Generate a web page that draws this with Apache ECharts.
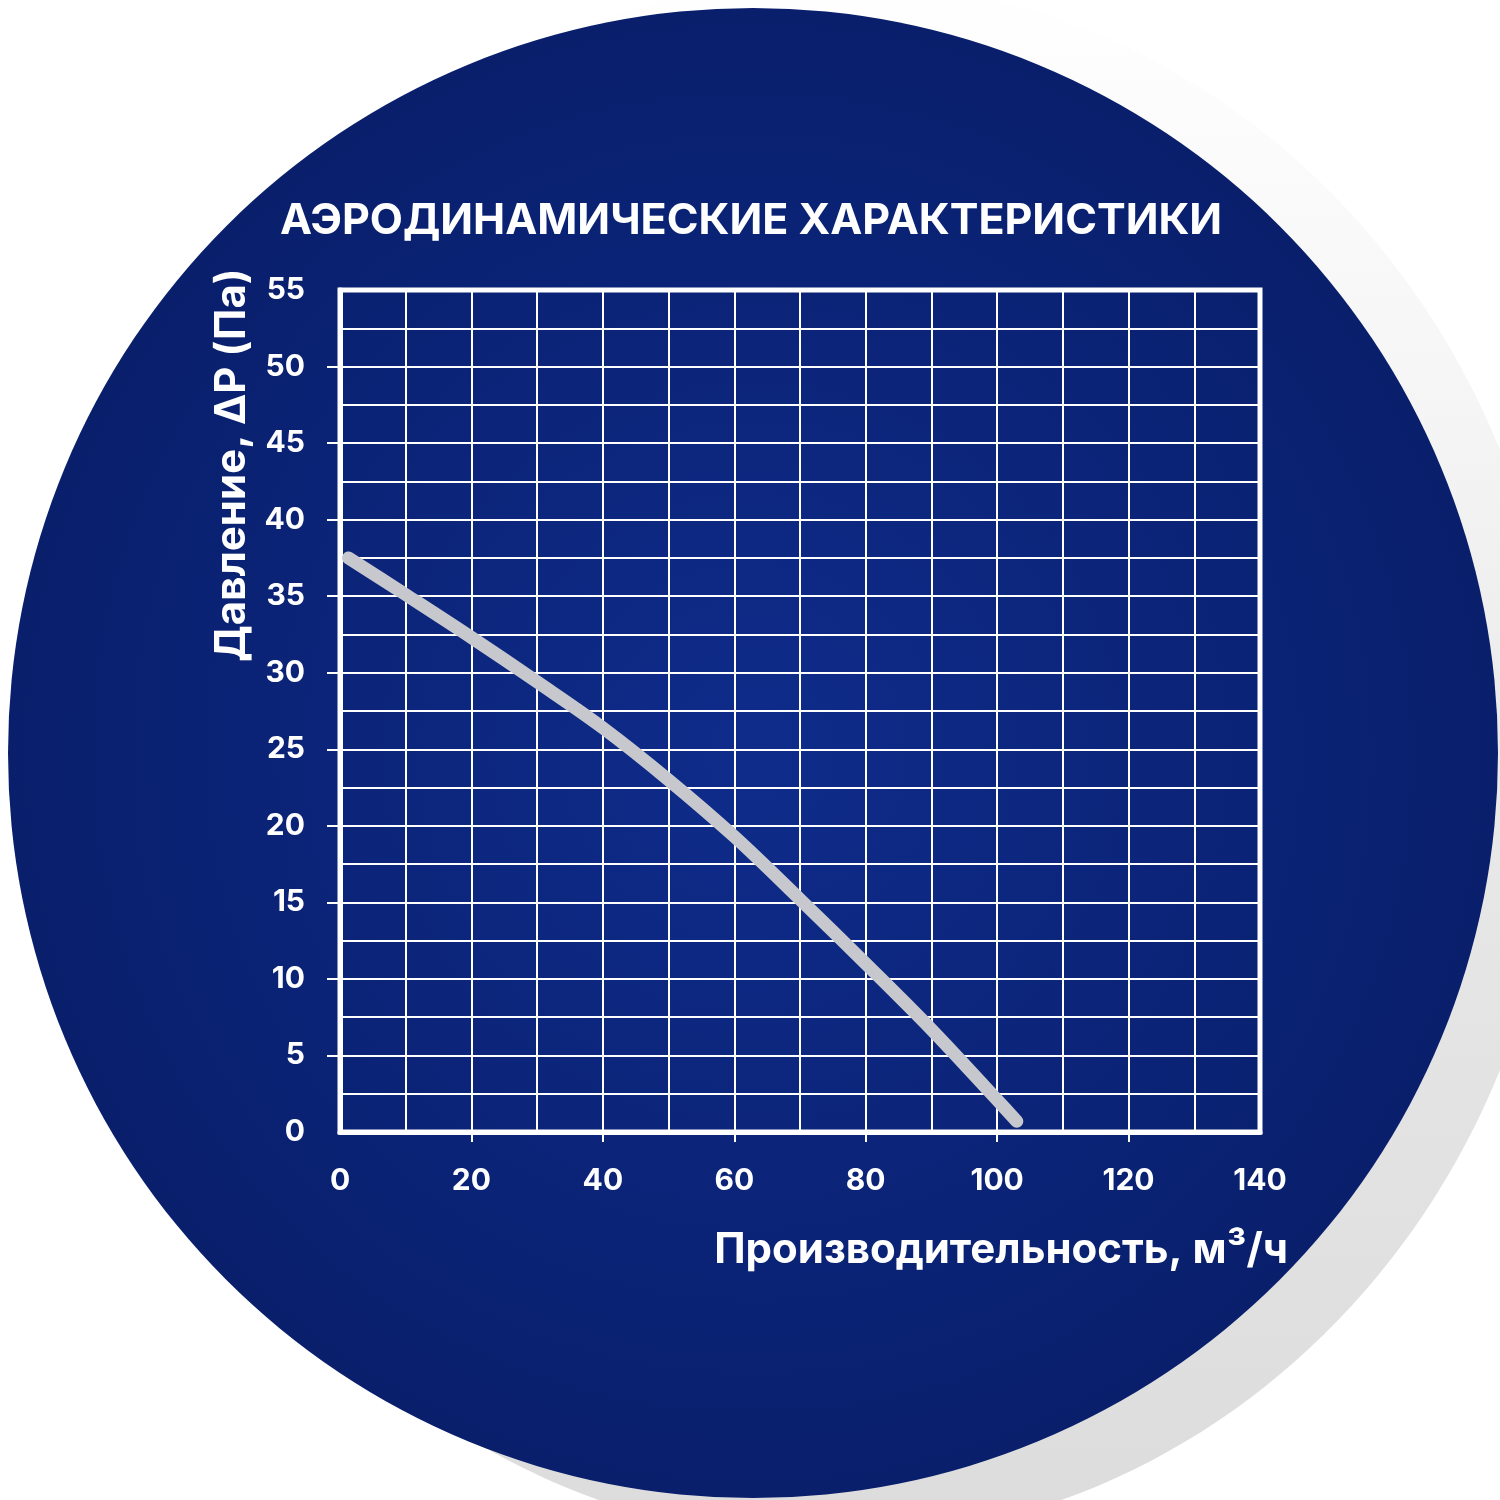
<!DOCTYPE html>
<html>
<head>
<meta charset="utf-8">
<title>Аэродинамические характеристики</title>
<script src="https://cdn.jsdelivr.net/npm/echarts@6/dist/echarts.min.js"></script>
<style>
    html, body { margin: 0; padding: 0; background: #ffffff; }
    #chart { width: 1500px; height: 1500px; }
</style>
</head>
<body>
<div id="chart"></div>
<script>
    // данные кривой (расход, м3/ч -> давление, Па)
    var flowValues = [1.3, 10, 20, 30, 40, 50, 60, 70, 80, 90, 100, 103];
    var pressureValues = [37.5, 35.1, 32.3, 29.4, 26.4, 23.0, 19.3, 15.2, 11.0, 6.7, 2.1, 0.7];

    // подписи делений
    var xTickValues = [20, 40, 60, 80, 100, 120];
    var yTickValues = [5, 10, 15, 20, 25, 30, 35, 40, 45, 50];

    var titleText = 'АЭРОДИНАМИЧЕСКИЕ ХАРАКТЕРИСТИКИ';
    var xAxisName = 'Производительность, м³/ч';
    var yAxisName = 'Давление, ΔP (Па)';

    var labelFont = 'Inter, "Noto Sans", sans-serif';

    var points = flowValues.map(function (x, i) {
        return [x, pressureValues[i]];
    });

    var chart = echarts.init(document.getElementById('chart'));

    var option = {
        backgroundColor: '#ffffff',
        animation: false,
        graphic: [
            {
                // серая тень за кругом
                type: 'ellipse',
                z: -100,
                shape: {cx: 830, cy: 760, rx: 730, ry: 780},
                style: {
                    fill: new echarts.graphic.LinearGradient(0, 0, 0, 1, [
                        {offset: 0, color: '#ffffff'},
                        {offset: 0.25, color: '#f6f6f6'},
                        {offset: 0.6, color: '#e6e6e6'},
                        {offset: 1, color: '#dcdcdc'}
                    ])
                },
                silent: true
            },
            {
                type: 'circle',
                z: -90,
                shape: {cx: 753, cy: 753, r: 745},
                style: {
                    fill: new echarts.graphic.RadialGradient(0.5, 0.5, 0.5, [
                        {offset: 0, color: '#0f2c8b'},
                        {offset: 1, color: '#091f6c'}
                    ])
                },
                silent: true
            },
            {
                type: 'text',
                z: 10,
                x: 751,
                y: 221,
                style: {
                    text: titleText,
                    fill: '#ffffff',
                    font: 'bold 43px ' + labelFont,
                    textAlign: 'center',
                    textVerticalAlign: 'middle'
                }
            },
            {
                type: 'text',
                z: 10,
                x: 232,
                y: 465,
                rotation: Math.PI / 2,
                style: {
                    text: yAxisName,
                    fill: '#ffffff',
                    font: 'bold 42px ' + labelFont,
                    textAlign: 'center',
                    textVerticalAlign: 'middle'
                }
            },
            {
                type: 'text',
                z: 10,
                x: 1288,
                y: 1250,
                style: {
                    text: xAxisName,
                    fill: '#ffffff',
                    font: 'bold 42px ' + labelFont,
                    textAlign: 'right',
                    textVerticalAlign: 'middle'
                }
            }
        ],
        grid: {
            left: 340,
            top: 290,
            right: 240,
            bottom: 368,
            show: true,
            borderColor: '#ffffff',
            borderWidth: 5,
            backgroundColor: 'transparent'
        },
        xAxis: {
            type: 'value',
            min: 0,
            max: 140,
            interval: 20,
            axisLine: {show: true, lineStyle: {color: '#ffffff', width: 5}},
            axisTick: {
                show: true,
                inside: false,
                length: 10,
                customValues: xTickValues,
                lineStyle: {color: '#ffffff', width: 2}
            },
            axisLabel: {
                color: '#ffffff',
                fontFamily: labelFont,
                fontWeight: 'bold',
                fontSize: 30,
                margin: 34
            },
            splitLine: {show: true, lineStyle: {color: '#ffffff', width: 2}},
            minorTick: {show: false, splitNumber: 2},
            minorSplitLine: {show: true, lineStyle: {color: '#ffffff', width: 2}}
        },
        yAxis: {
            type: 'value',
            min: 0,
            max: 55,
            interval: 5,
            axisLine: {show: true, lineStyle: {color: '#ffffff', width: 5}},
            axisTick: {
                show: true,
                inside: false,
                length: 13,
                customValues: yTickValues,
                lineStyle: {color: '#ffffff', width: 2}
            },
            axisLabel: {
                color: '#ffffff',
                fontFamily: labelFont,
                fontWeight: 'bold',
                fontSize: 30,
                margin: 35
            },
            splitLine: {show: true, lineStyle: {color: '#ffffff', width: 2}},
            minorTick: {show: false, splitNumber: 2},
            minorSplitLine: {show: true, lineStyle: {color: '#ffffff', width: 2}}
        },
        series: [{
            type: 'line',
            data: points,
            smooth: 0.35,
            symbol: 'none',
            z: 5,
            lineStyle: {
                color: '#c6c8cd',
                width: 13,
                cap: 'round',
                join: 'round'
            }
        }]
    };

    chart.setOption(option);

    window.addEventListener('resize', function () {
        chart.resize();
    });
</script>
</body>
</html>
